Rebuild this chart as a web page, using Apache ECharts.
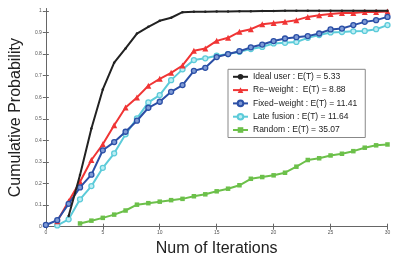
<!DOCTYPE html>
<html><head><meta charset="utf-8">
<script src="https://cdn.jsdelivr.net/npm/echarts@6/dist/echarts.min.js"></script>
<style>html,body{margin:0;padding:0;background:#fff}#c{width:399px;height:262px}</style>
</head><body><div id="c"></div>
<script>
const iterations = Array.from({length: 31}, (_, i) => i);
const xTicks = [0, 5, 10, 15, 20, 25, 30];
const yTicks = [0, 0.1, 0.2, 0.3, 0.4, 0.5, 0.6, 0.7, 0.8, 0.9, 1];
const seriesNames = ['Ideal user : E(T) = 5.33', 'Re\u2212weight :  E(T) = 8.88', 'Fixed\u2212weight : E(T) = 11.41', 'Late fusion : E(T) = 11.64', 'Random : E(T) = 35.07'];
const idealUser = [null, null, 0.05, 0.24, 0.455, 0.636, 0.76, 0.826, 0.895, 0.926, 0.954, 0.968, 0.994, 0.996, 0.996, 0.997, 0.997, 0.998, 0.998, 0.999, 0.999, 1, 1, 1, 1, 1, 1, 1, 1, 1, 1];
const reWeight = [null, 0.025, 0.118, 0.208, 0.309, 0.382, 0.47, 0.552, 0.599, 0.653, 0.685, 0.713, 0.747, 0.815, 0.826, 0.861, 0.875, 0.903, 0.915, 0.938, 0.944, 0.949, 0.957, 0.972, 0.98, 0.985, 0.99, 0.99, 0.995, 0.995, 0.997];
const fixedWeight = [0.008, 0.03, 0.106, 0.182, 0.241, 0.354, 0.392, 0.44, 0.491, 0.551, 0.579, 0.625, 0.656, 0.722, 0.736, 0.786, 0.8, 0.813, 0.831, 0.844, 0.86, 0.872, 0.878, 0.883, 0.895, 0.914, 0.918, 0.934, 0.949, 0.957, 0.972];
const lateFusion = [null, 0.006, 0.034, 0.127, 0.188, 0.273, 0.34, 0.428, 0.502, 0.576, 0.61, 0.679, 0.729, 0.772, 0.78, 0.792, 0.8, 0.81, 0.823, 0.833, 0.849, 0.852, 0.856, 0.875, 0.888, 0.9, 0.902, 0.905, 0.907, 0.915, 0.934];
const randomSel = [null, null, null, 0.015, 0.028, 0.041, 0.056, 0.075, 0.102, 0.109, 0.116, 0.123, 0.129, 0.141, 0.15, 0.164, 0.176, 0.192, 0.222, 0.23, 0.238, 0.25, 0.278, 0.309, 0.317, 0.33, 0.338, 0.35, 0.366, 0.377, 0.381];

const pairs = arr => iterations.map((x, i) => [x, arr[i]]);
const FONT = 'Liberation Sans, Arial, sans-serif';
const axisLineStyle = {lineStyle: {color: '#666', width: 1}};
const tickStyle = {show: true, inside: true, length: 3, lineStyle: {color: '#666'}};

const styles = [
  {data: idealUser, color: '#222222', symbol: 'circle', size: 2.5, fill: '#222222', z: 6},
  {data: reWeight, color: '#f03535', symbol: 'triangle', size: 6, fill: '#f03535', z: 4},
  {data: fixedWeight, color: '#2b4fa6', symbol: 'circle', size: 5, fill: '#7f9bd6', z: 5},
  {data: lateFusion, color: '#5ccbd9', symbol: 'circle', size: 5, fill: '#bdeef4', z: 3},
  {data: randomSel, color: '#6cc04a', symbol: 'rect', size: 4.5, fill: '#6cc04a', z: 2}
];

const chart = echarts.init(document.getElementById('c'), null, {renderer: 'canvas'});
chart.setOption({
  animation: false,
  backgroundColor: '#fff',
  grid: {left: 34, right: 11.5, top: 8.7, bottom: 35.3, containLabel: false},
  xAxis: [{
    type: 'value', min: 0, max: 30, interval: 5, position: 'bottom',
    name: 'Num of Iterations', nameLocation: 'middle', nameGap: 14,
    nameTextStyle: {fontFamily: FONT, fontSize: 16, color: '#222'},
    axisLine: axisLineStyle, axisTick: tickStyle, splitLine: {show: false},
    axisLabel: {fontFamily: FONT, fontSize: 5, color: '#555', margin: 3,
      customValues: xTicks, formatter: v => String(v)}
  }, {
    type: 'value', min: 0, max: 30, interval: 5, position: 'top',
    axisLine: axisLineStyle, axisTick: tickStyle, axisLabel: {show: false}, splitLine: {show: false}
  }],
  yAxis: [{
    type: 'value', min: 0, max: 1.01, position: 'left',
    name: 'Cumulative Probability', nameLocation: 'middle', nameGap: 19,
    nameTextStyle: {fontFamily: FONT, fontSize: 16, color: '#222'},
    axisLine: axisLineStyle, splitLine: {show: false},
    axisTick: Object.assign({customValues: yTicks}, tickStyle),
    axisLabel: {fontFamily: FONT, fontSize: 5, color: '#555', margin: 4,
      customValues: yTicks, formatter: v => (v === 0 ? '0' : v === 1 ? '1' : v.toFixed(1))}
  }, {
    type: 'value', min: 0, max: 1.01, position: 'right',
    axisLine: axisLineStyle, splitLine: {show: false},
    axisTick: Object.assign({customValues: yTicks}, tickStyle), axisLabel: {show: false}
  }],
  legend: {
    orient: 'vertical', left: 228, top: 69.3,
    backgroundColor: '#fff', borderColor: '#888', borderWidth: 1,
    padding: [3, 8, 3, 4], itemGap: 4.3, itemWidth: 15, itemHeight: 7,
    textStyle: {fontFamily: FONT, fontSize: 8.5, color: '#222'},
    data: seriesNames
  },
  series: styles.map((s, k) => ({
    name: seriesNames[k], type: 'line', data: pairs(s.data),
    xAxisIndex: 0, yAxisIndex: 0, z: s.z,
    symbol: s.symbol, symbolSize: s.size, showSymbol: true, connectNulls: false,
    lineStyle: {color: s.color, width: 2},
    itemStyle: {color: s.fill, borderColor: s.color, borderWidth: s.symbol === 'circle' && k > 0 ? 1.3 : 0}
  }))
});
</script></body></html>
